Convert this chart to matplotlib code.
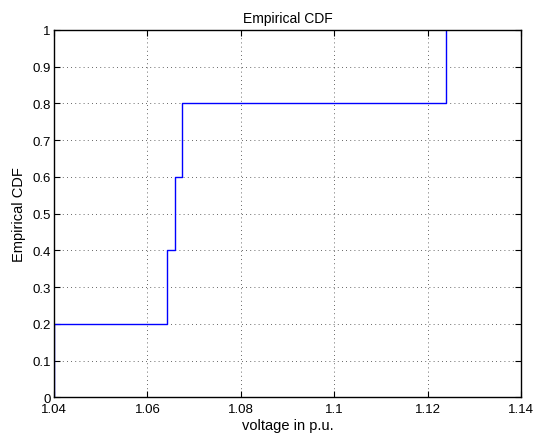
import numpy as np
import matplotlib
matplotlib.use('Agg')
import matplotlib.pyplot as plt

plt.rcParams['font.family'] = ['Liberation Sans', 'DejaVu Sans']
plt.rcParams['font.size'] = 9.5

# 电压样本
voltages = [1.04, 1.0641, 1.0659, 1.0675, 1.124]
x_ticks = [1.04, 1.06, 1.08, 1.10, 1.12, 1.14]
x_tick_labels = ['1.04', '1.06', '1.08', '1.1', '1.12', '1.14']
y_ticks = [0, 0.1, 0.2, 0.3, 0.4, 0.5, 0.6, 0.7, 0.8, 0.9, 1.0]
y_tick_labels = ['0', '0.1', '0.2', '0.3', '0.4', '0.5', '0.6', '0.7', '0.8', '0.9', '1']

# 经验分布函数阶梯
xs = np.sort(np.array(voltages))
n = len(xs)
step_x = [xs[0]]
step_y = [0.0]
for i, v in enumerate(xs):
    step_x += [v, v]
    step_y += [i / n, (i + 1) / n]
    if i + 1 < n:
        step_x.append(xs[i + 1])
        step_y.append((i + 1) / n)

fig = plt.figure(figsize=(5.34, 4.39), dpi=100)
ax = fig.add_axes([0.1011, 0.0923, 0.8746, 0.8371])
ax.plot(step_x, step_y, color='#0000ff', lw=1.0)

ax.set_xlim(1.04, 1.14)
ax.set_ylim(0, 1)
ax.set_xticks(x_ticks)
ax.set_xticklabels(x_tick_labels)
ax.set_yticks(y_ticks)
ax.set_yticklabels(y_tick_labels)
ax.tick_params(direction='in', top=True, right=True, length=4, width=0.8, pad=2.5)
ax.tick_params(axis='x', pad=4)
ax.grid(True, linestyle=(0, (1, 4)), color='black', lw=0.6, alpha=0.8)
for s in ax.spines.values():
    s.set_linewidth(1.0)

ax.set_title('Empirical CDF', fontsize=10, pad=6)
ax.set_xlabel('voltage in p.u.', fontsize=10.5, labelpad=2)
ax.set_ylabel('Empirical CDF', fontsize=10.5, labelpad=4)

fig.savefig('out.png', dpi=100)
